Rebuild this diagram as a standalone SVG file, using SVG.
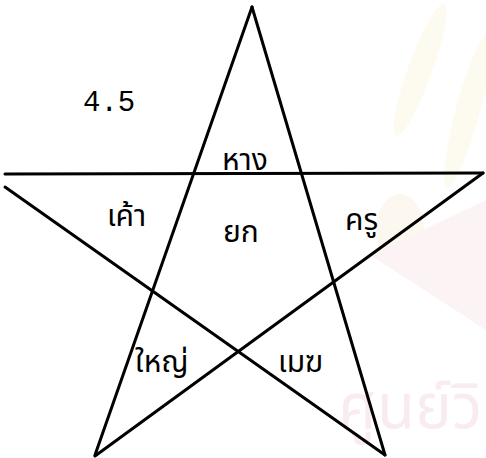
<svg xmlns="http://www.w3.org/2000/svg" width="486" height="458" viewBox="0 0 486 458">
<style>
.ln{stroke:#000;stroke-width:3;stroke-linecap:round;fill:none}
.th{font-family:"Noto Sans Thai","Noto Sans","DejaVu Sans",sans-serif;font-size:30px;fill:#000}
.num{font-family:"Liberation Mono",monospace;font-size:29px;fill:#000}
.wm{font-family:"Noto Sans Thai","Noto Sans","DejaVu Sans",sans-serif;font-size:62px;fill:#f8ecf1}
</style>
<rect width="486" height="458" fill="#fff"/>
<g id="watermark">
<ellipse cx="420" cy="70" rx="12" ry="70" fill="#fdfaf0" transform="rotate(20 420 70)"/>
<ellipse cx="468" cy="110" rx="12" ry="80" fill="#fdfaf0" transform="rotate(15 468 110)"/>
<ellipse cx="400" cy="230" rx="24" ry="36" fill="#fcf8f0"/>
<path d="M370 255 L486 200 L486 330 Z" fill="#fcf3f5"/>
<text class="wm" x="338" y="428">ศูนย์วิ</text>
</g>
<g id="connectors">
<line class="ln" x1="252" y1="7" x2="95" y2="455"/>
<line class="ln" x1="252" y1="7" x2="385" y2="455"/>
<line class="ln" x1="5" y1="174" x2="483" y2="173"/>
<line class="ln" x1="5" y1="187" x2="385" y2="455"/>
<line class="ln" x1="483" y1="173" x2="95" y2="456"/>
</g>
<g id="label-num"><text class="num" x="83" y="111">4.5</text></g>
<g id="n-hang"><text class="th" x="222" y="170">หาง</text></g>
<g id="n-khao"><text class="th" x="107" y="226">เค้า</text></g>
<g id="n-yok"><text class="th" x="223" y="242">ยก</text></g>
<g id="n-khru"><text class="th" x="345" y="230">ครู</text></g>
<g id="n-yai"><text class="th" x="135" y="372">ใหญ่</text></g>
<g id="n-mek"><text class="th" x="278" y="372">เมฆ</text></g>
</svg>
